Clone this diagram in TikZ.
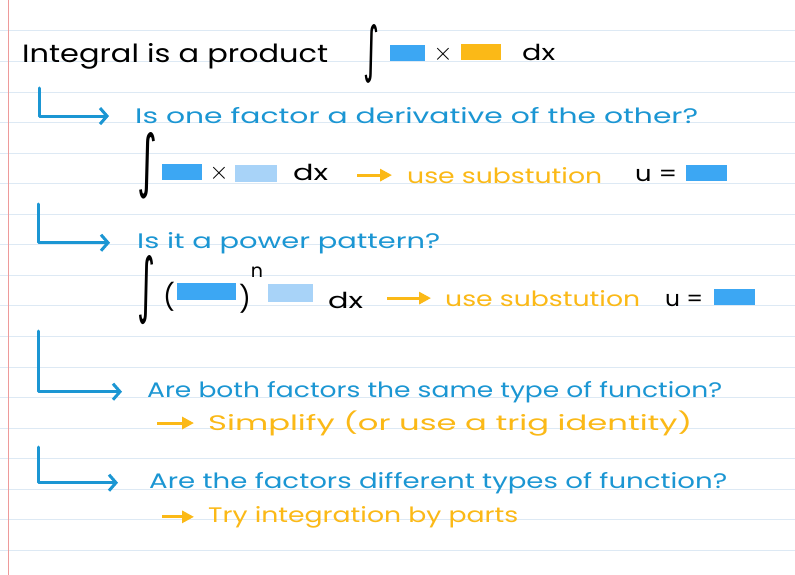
\documentclass[tikz,border=0pt]{standalone}
\usepackage{fontspec}
\setmainfont{Poppins}
\newfontfamily\djv{DejaVu Sans}
\usepackage{graphicx}
\usetikzlibrary{arrows.meta}
\definecolor{qblue}{HTML}{1B96D3}
\definecolor{fblue}{HTML}{3CA7F3}
\definecolor{lblue}{HTML}{A8D3F8}
\definecolor{ornge}{HTML}{FBB917}
\definecolor{ruleln}{HTML}{DDE9F4}
\definecolor{margn}{HTML}{EE9A9A}
\newcommand\fitw[2]{\resizebox{#1pt}{\height}{#2}}
\newcommand\intsym[2]{\resizebox{#1pt}{#2pt}{\djv ∫}}
\tikzset{
  txt/.style={inner sep=0pt, anchor=base west},
  qtext/.style={txt, text=qblue, font=\fontsize{21}{24}\selectfont},
  atext/.style={txt, text=ornge, font=\fontsize{21}{24}\selectfont},
  btext/.style={txt, text=black, font=\fontsize{22}{24}\selectfont},
  ttext/.style={txt, text=black, font=\fontsize{25}{28}\selectfont},
  intg/.style={inner sep=0pt, text=black},
  timesn/.style={inner sep=0pt, text=black, font=\fontsize{30}{30}\selectfont},
  fbox/.style={inner sep=0pt, draw=none, fill=fblue},
  lbox/.style={inner sep=0pt, draw=none, fill=lblue},
  obox/.style={inner sep=0pt, draw=none, fill=ornge},
  larr/.style={draw=qblue, line width=3pt, line cap=round, line join=round,
    -{Straight Barb[length=7pt,width=16pt,line width=3pt]}},
  oarr/.style={draw=ornge, line width=3pt,
    -{Triangle[length=12pt,width=12pt]}},
}
\begin{document}
\begin{tikzpicture}[x=1pt,y=-1pt]
\useasboundingbox (0,0) rectangle (795,575);
\fill[white] (0,0) rectangle (795,575);
% lined paper
\foreach \k in {0,...,17}{
  \draw[ruleln, line width=1pt] (0,31+30.55*\k) -- (795,31+30.55*\k);
}
\draw[margn, line width=1pt] (8,0) -- (8,575);

% row 1
\node[ttext] (t0) at (22,63) {\fitw{306}{Integral is a product}};
\node[intg] (i1) at (371.5,54) {\intsym{16}{46}};
\node[fbox, minimum width=35pt, minimum height=16pt] (r1b) at (407.5,53) {};
\node[timesn] (x1) at (443,54) {$\times$};
\node[obox, minimum width=40pt, minimum height=16pt] (r1o) at (481,52) {};
\node[btext] (d1) at (522,61) {\fitw{33}{dx}};

% question 1
\coordinate (s1) at (39,88);
\node[qtext] (q1) at (135,124) {\fitw{563}{Is one factor a derivative of the other?}};
\draw[larr, shorten >=26pt] (s1) |- (q1);

% row 2
\node[intg] (i2) at (147.5,166) {\intsym{20}{52}};
\node[fbox, minimum width=40pt, minimum height=16pt] (r2b) at (182,172) {};
\node[timesn] (x2) at (219,173) {$\times$};
\node[lbox, minimum width=42pt, minimum height=17pt] (r2l) at (256,173) {};
\node[btext] (d2) at (293,180) {\fitw{35}{dx}};
\node[atext] (us2) at (407,183) {\fitw{195}{use substution}};
\draw[oarr] ([xshift=29pt]d2.east |- us2.west) -- ([xshift=-15pt]us2.west);
\node[btext] (u2) at (635,182) {\fitw{42}{u =}};
\node[fbox, minimum width=41pt, minimum height=16pt] (r2u) at (706.5,173) {};

% question 2
\coordinate (s2) at (38,204);
\node[qtext] (q2) at (137,248) {\fitw{303}{Is it a power pattern?}};
\draw[larr, shorten >=27pt] (s2) |- (q2);

% row 3
\node[intg] (i3) at (146.5,290) {\intsym{18}{54}};
\node[intg, font=\fontsize{26}{28}\selectfont] (p3a) at (169,297) {(};
\node[fbox, minimum width=59pt, minimum height=17pt] (r3b) at (206.5,291.5) {};
\node[intg, font=\fontsize{26}{28}\selectfont] (p3b) at (245,299) {)};
\node[intg, font=\fontsize{19}{20}\selectfont] (n3) at (257,272) {n};
\node[lbox, minimum width=45pt, minimum height=18pt] (r3l) at (290.5,292.5) {};
\node[btext] (d3) at (328,308) {\fitw{35}{dx}};
\node[atext] (us3) at (445,306) {\fitw{195}{use substution}};
\draw[oarr] ([xshift=24pt]d3.east |- us3.west) -- ([xshift=-14pt]us3.west);
\node[btext] (u3) at (665,306) {\fitw{38}{u =}};
\node[fbox, minimum width=41pt, minimum height=16pt] (r3u) at (734.5,297) {};

% question 3
\coordinate (s3) at (38,331);
\node[qtext] (q3) at (147,397) {\fitw{575}{Are both factors the same type of function?}};
\draw[larr, shorten >=25pt] (s3) |- (q3);
\node[atext] (a3) at (208,430) {\fitw{484}{Simplify (or use a trig identity)}};
\draw[oarr] ([xshift=-51pt]a3.west) -- ([xshift=-14pt]a3.west);

% question 4
\coordinate (s4) at (38,447);
\node[qtext] (q4) at (149,488) {\fitw{578}{Are the factors different types of function?}};
\draw[larr, shorten >=31pt] (s4) |- (q4);
\node[atext] (a4) at (208,522) {\fitw{310}{Try integration by parts}};
\draw[oarr] ([xshift=-46pt]a4.west) -- ([xshift=-14pt]a4.west);
\end{tikzpicture}
\end{document}
